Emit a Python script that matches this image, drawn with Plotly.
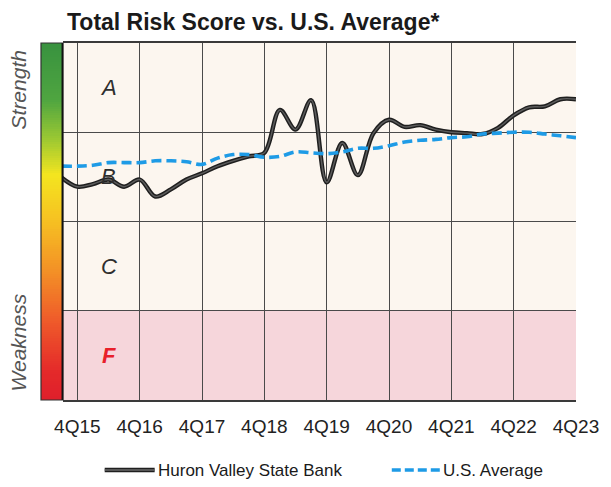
import numpy as np
import plotly.graph_objects as go

# Quarter labels: 3Q15 .. 4Q23 (index 0 = 4Q15)
quarters = ["3Q15",
            "4Q15", "1Q16", "2Q16", "3Q16", "4Q16", "1Q17", "2Q17", "3Q17",
            "4Q17", "1Q18", "2Q18", "3Q18", "4Q18", "1Q19", "2Q19", "3Q19",
            "4Q19", "1Q20", "2Q20", "3Q20", "4Q20", "1Q21", "2Q21", "3Q21",
            "4Q21", "1Q22", "2Q22", "3Q22", "4Q22", "1Q23", "2Q23", "3Q23",
            "4Q23"]
quarter_index = list(range(-1, 33))

# Total risk score (0 = bottom of F band, 4 = top of A band)
bank_score = [2.49,
              2.39, 2.42, 2.47, 2.39, 2.47, 2.28, 2.36, 2.47,
              2.54, 2.62, 2.68, 2.73, 2.77, 3.25, 3.03, 3.36,
              2.44, 2.88, 2.52, 2.99, 3.14, 3.06, 3.08, 3.03,
              3.00, 2.99, 2.98, 3.05, 3.19, 3.28, 3.29, 3.37,
              3.37]
us_average = [2.62,
              2.62, 2.63, 2.66, 2.66, 2.66, 2.68, 2.68, 2.67,
              2.64, 2.71, 2.75, 2.75, 2.72, 2.73, 2.78, 2.77,
              2.76, 2.78, 2.82, 2.82, 2.85, 2.89, 2.91, 2.92,
              2.94, 2.95, 2.98, 2.99, 3.00, 3.00, 2.98, 2.96,
              2.94]

tick_vals = [0, 4, 8, 12, 16, 20, 24, 28, 32]
tick_text = ["4Q15", "4Q16", "4Q17", "4Q18", "4Q19", "4Q20", "4Q21", "4Q22", "4Q23"]

grades = ["A", "B", "C", "F"]
grade_levels = [3.5, 2.5, 1.5, 0.5]
grade_colors = ["#2e2e2e", "#2e2e2e", "#2e2e2e", "#e8202a"]

W, H = 611, 487
ML, MR, MT, MB = 41, 24, 43, 87
plot_w = W - ML - MR
plot_h = H - MT - MB
bar_frac = 22 / plot_w

BG = "#fcf6ef"
PINK = "#f6d6db"
GRID = "#4a4a4a"
BLUE = "#1e9be6"


def px_x(px):
    return (px - ML) / plot_w


def px_y(py):
    return (H - MB - py) / plot_h


fig = go.Figure()

# Strength/weakness colour scale bar
levels = np.linspace(0, 4, 161)
fig.add_trace(go.Heatmap(
    x=[0, 1], y=levels, z=[[v, v] for v in levels],
    xaxis="x2", yaxis="y",
    colorscale=[[0.0, "#df1f2b"], [0.08, "#e42a2a"], [0.22, "#ef5a2a"],
                [0.36, "#f39026"], [0.50, "#f6c022"], [0.63, "#f4e51f"],
                [0.73, "#9cc832"], [0.84, "#4fa540"], [1.0, "#38923f"]],
    zmin=0, zmax=4, showscale=False, hoverinfo="skip",
))

# Bank score: dark outline with a lighter core
fig.add_trace(go.Scatter(
    x=quarter_index, y=bank_score, mode="lines",
    line=dict(color="#1f1f1f", width=4.4, shape="spline", smoothing=1.0),
    showlegend=False, hoverinfo="skip",
))
fig.add_trace(go.Scatter(
    x=quarter_index, y=bank_score, mode="lines",
    line=dict(color="#5c5c5c", width=1.4, shape="spline", smoothing=1.0),
    name="Huron Valley State Bank", showlegend=False,
))
fig.add_trace(go.Scatter(
    x=quarter_index, y=us_average, mode="lines",
    line=dict(color=BLUE, width=3.6, dash="10px,5px", shape="spline", smoothing=1.0),
    name="U.S. Average", showlegend=False,
))

leg_y = px_y(470)

shapes = [
    # F band (under the grid lines)
    dict(type="rect", xref="x", yref="y", x0=-0.95, x1=32, y0=0, y1=1,
         fillcolor=PINK, line_width=0, layer="below"),
    # colour bar outline
    dict(type="rect", xref="paper", yref="paper", x0=0, x1=bar_frac, y0=0, y1=1,
         line=dict(color="#333333", width=1.2), layer="above"),
    dict(type="line", xref="paper", yref="paper", x0=bar_frac, x1=bar_frac, y0=0, y1=1,
         line=dict(color="#111111", width=2), layer="above"),
    # legend keys
    dict(type="line", xref="paper", yref="paper", x0=px_x(106), x1=px_x(157),
         y0=leg_y, y1=leg_y, line=dict(color="#1f1f1f", width=4.4)),
    dict(type="line", xref="paper", yref="paper", x0=px_x(106), x1=px_x(157),
         y0=leg_y, y1=leg_y, line=dict(color="#6a6a6a", width=1.4)),
    dict(type="line", xref="paper", yref="paper", x0=px_x(399), x1=px_x(448),
         y0=leg_y, y1=leg_y, line=dict(color=BLUE, width=3.6, dash="9px,4px")),
]

annotations = []
for g, lv, c in zip(grades, grade_levels, grade_colors):
    annotations.append(dict(
        x=2, y=lv, xref="x", yref="y",
        text=f"<i><b>{g}</b></i>" if g == "F" else f"<i>{g}</i>",
        showarrow=False, font=dict(family="Liberation Sans", size=22, color=c),
    ))

annotations += [
    dict(x=px_x(18), y=px_y(90), xref="paper", yref="paper",
         xanchor="center", yanchor="middle",
         text="<i>Strength</i>", textangle=-90, showarrow=False,
         font=dict(family="Liberation Sans", size=21, color="#555555")),
    dict(x=px_x(18), y=px_y(342), xref="paper", yref="paper",
         xanchor="center", yanchor="middle",
         text="<i>Weakness</i>", textangle=-90, showarrow=False,
         font=dict(family="Liberation Sans", size=21, color="#555555")),
    dict(x=px_x(158), y=leg_y, xref="paper", yref="paper",
         xanchor="left", yanchor="middle",
         text="Huron Valley State Bank", showarrow=False,
         font=dict(family="Liberation Sans", size=17, color="#1a1a1a")),
    dict(x=px_x(449), y=leg_y, xref="paper", yref="paper",
         xanchor="left", yanchor="middle",
         text="U.S. Average", showarrow=False,
         font=dict(family="Liberation Sans", size=17, color="#1a1a1a")),
]

fig.update_layout(
    width=W, height=H,
    margin=dict(l=ML, r=MR, t=MT, b=MB),
    paper_bgcolor="white",
    plot_bgcolor=BG,
    title=dict(text="<b>Total Risk Score vs. U.S. Average*</b>",
               x=67 / W, xanchor="left", y=1 - 22 / H, yanchor="middle",
               font=dict(family="Liberation Sans", size=23, color="#1a1a1a")),
    xaxis=dict(domain=[bar_frac, 1], range=[-0.95, 32], tickvals=tick_vals, ticktext=tick_text,
               showgrid=True, gridcolor=GRID, gridwidth=1, zeroline=False,
               showline=True, linecolor="#3a3a3a", linewidth=1.6, mirror=True,
               ticks="", ticklabelstandoff=8,
               tickfont=dict(family="Liberation Sans", size=19, color="#222222")),
    xaxis2=dict(domain=[0, bar_frac], range=[-0.5, 1.5], showgrid=False, zeroline=False,
                showticklabels=False, ticks="", anchor="y"),
    yaxis=dict(range=[0, 4], tickvals=[1, 2, 3], showticklabels=False, ticks="",
               showgrid=True, gridcolor=GRID, gridwidth=1, zeroline=False,
               showline=False),
    shapes=shapes,
    annotations=annotations,
    showlegend=False,
)

fig.write_html("out.html")
